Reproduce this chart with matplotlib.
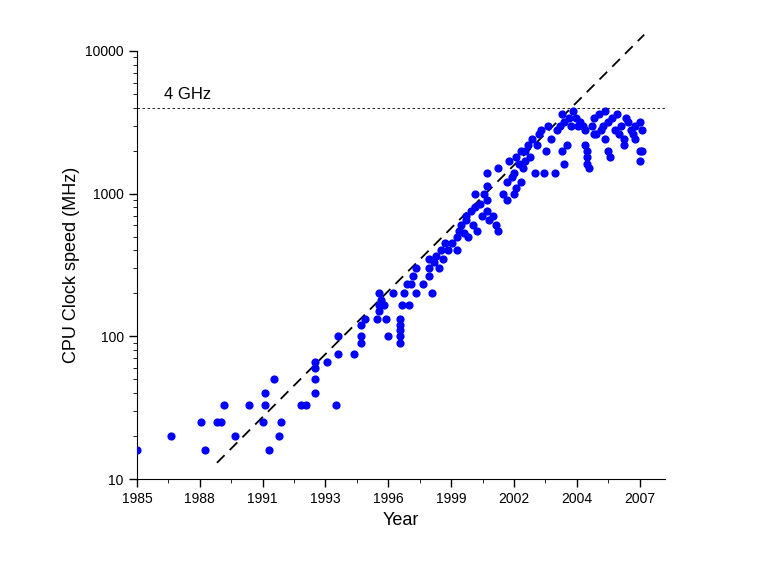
import matplotlib
matplotlib.use("Agg")
import matplotlib.pyplot as plt
import numpy as np
from matplotlib.ticker import FixedLocator, NullFormatter, LogLocator

plt.rcParams['font.family'] = ['Liberation Sans', 'DejaVu Sans']

years = [1985,1986.5,1987.8,1988,1988.5,1988.7,1988.8,1989.3,1989.9,1990.5,1990.6,1990.6,1990.8,1991,1991.2,1991.3,
 1992.2,1992.4,1992.8,1992.8,1992.8,1992.8,1993.3,1993.7,1993.8,1993.8,1994.5,1994.8,1994.8,1994.8,1995,1995.5,1995.6,
 1995.6,1995.6,1995.7,1995.8,1995.9,1996,1996.2,1996.5,1996.5,1996.5,1996.5,1996.5,1996.6,1996.7,1996.8,1996.9,1997,
 1997.1,1997.2,1997.2,1997.5,1997.8,1997.8,1997.8,1997.9,1998,1998.1,1998.2,1998.3,1998.4,1998.5,1998.6,1998.8,1999,
 1999,1999.1,1999.2,1999.3,1999.4,1999.4,1999.5,1999.6,1999.7,1999.8,1999.8,1999.9,2000,2000.1,2000.2,2000.3,2000.3,
 2000.3,2000.3,2000.4,2000.6,2000.7,2000.8,2000.8,2001,2001.2,2001.2,2001.3,2001.4,2001.5,2001.5,2001.6,2001.6,2001.7,
 2001.8,2001.8,2001.9,2002,2002,2002.1,2002.2,2002.3,2002.4,2002.5,2002.6,2002.7,2002.8,2002.9,2003,2003.1,2003.3,
 2003.4,2003.5,2003.6,2003.7,2003.8,2004.1,2004.2,2004.3,2004.4,2004.5,2004.6,2004.6,2004.7,2004.7,2004.7,2004.8,
 2004.9,2005,2005.1,2005.2,2005.3,2005.4,2005.5,2005.6,2005.6,2005.7,2005.8,2005.9,2006,2006.1,2006.2,2006.3,2006.3,
 2006.5,2006.6,2006.7,2006.8,2006.8,2007,2007,2007,2007.1,2007.1,2003.6,2003.7,2003.9,2004.0,2005.0,2005.5,2006.4]
mhz = [16,20,25,16,25,25,33,20,33,25,33,40,16,50,20,25,
 33,33,50,60,66,40,66,33,75,100,75,90,100,120,133,133,150,
 166,200,180,166,133,100,200,90,100,110,120,133,166,200,233,166,233,
 266,300,200,233,266,300,350,200,333,366,300,400,350,450,400,450,500,
 400,550,600,533,650,700,500,750,600,800,1000,550,850,700,1000,900,750,
 1130,1400,650,700,600,550,1500,1000,1200,900,1700,1300,1400,1000,1800,1100,1600,
 2000,1200,1500,1700,2000,2200,1800,2400,1400,2200,2600,2800,1400,2000,3000,2400,1400,
 2800,3000,2000,1600,2200,3800,3400,3000,3200,3000,2800,2200,1600,1800,2000,1500,
 3000,3400,2600,3600,2800,3000,2400,3200,2000,1800,3400,2800,3600,2600,3000,2200,2400,
 3200,2800,2600,2400,3000,2000,1700,3200,2800,2000,3600,3200,3400,3000,2600,3800,3400]

tick_pos = [1985 + 2.75*i for i in range(9)]
tick_labels = ["1985","1988","1991","1993","1996","1999","2002","2004","2007"]
trend_x = [1988.5, 2007.2]
trend_y = [13, 13000]
ghz4 = 4000

fig = plt.figure(figsize=(7.65, 5.85), dpi=100)
ax = fig.add_axes([0.179, 0.181, 0.69, 0.732])
ax.set_yscale('log')
ax.scatter(years, mhz, s=24, color='#0000ff', edgecolors='#0000ff', zorder=3)
ax.plot(trend_x, trend_y, 'k--', lw=1.3, dashes=(6, 4), clip_on=False)
ax.axhline(ghz4, color='k', ls=(0, (3, 3)), lw=0.6)
ax.text(1986.2, 4400, "4 GHz", fontsize=12, va='bottom')
ax.set_xlim(1985, 2008.1)
ax.set_ylim(10, 10000)
ax.set_xticks(tick_pos)
ax.set_xticklabels(tick_labels, fontsize=10)
ax.xaxis.set_minor_locator(FixedLocator([p + 1.375 for p in tick_pos]))
ax.set_yticks([10, 100, 1000, 10000])
ax.set_yticklabels(["10", "100", "1000", "10000"], fontsize=10)
ax.yaxis.set_minor_locator(LogLocator(subs=np.arange(2, 10)))
ax.yaxis.set_minor_formatter(NullFormatter())
for s in ['top', 'right']:
    ax.spines[s].set_visible(False)
ax.tick_params(direction='out', length=6, width=1)
ax.tick_params(which='minor', direction='out', length=3)
ax.set_xlabel("Year", fontsize=13)
ax.set_ylabel("CPU Clock speed (MHz)", fontsize=13)
fig.savefig("out.png", dpi=100)
